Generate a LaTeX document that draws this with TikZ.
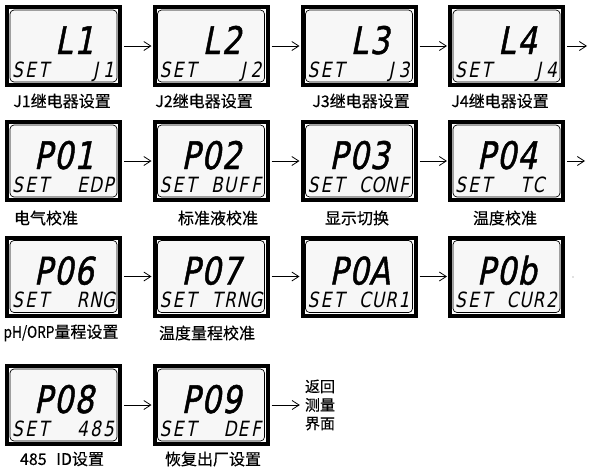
\documentclass[tikz,border=0pt]{standalone}
\usepackage{fontspec}
\usetikzlibrary{arrows.meta,calc}
\newfontfamily\cjk[FakeBold=0.4]{Noto Sans CJK SC}
\newfontfamily\segfont[FakeSlant=0.2,FakeStretch=0.8]{DejaVu Sans}
\newfontfamily\segbig[FakeSlant=0.2,FakeStretch=0.8,FakeBold=1.2]{DejaVu Sans}
\newlength\segw
\def\segloop#1{\ifx#1\relax\else\ifx#1.\hbox to\segw{}\else\hbox to\segw{\hss#1\hss}\fi\expandafter\segloop\fi}
\newcommand\seg[2]{\setlength\segw{#1}\segloop#2\relax}
\tikzset{
  outerbox/.style={draw, line width=4pt, minimum width=113pt, minimum height=78pt, inner sep=0pt, fill=white},
  innerbox/.style={draw, line width=0.7pt, fill=gray!6, rounded corners=4pt, minimum width=107pt, minimum height=72pt, inner sep=0pt},
  bigtxt/.style={font=\segbig\fontsize{38}{38}\selectfont, inner sep=0pt, anchor=base},
  smalltxt/.style={font=\segfont\fontsize{21}{21}\selectfont, inner sep=0pt, anchor=base},
  lbl/.style={font=\cjk\fontsize{16}{16}\selectfont, inner sep=0pt, anchor=center},
  arr/.style={-{Straight Barb[length=7pt,width=9pt]}, line width=0.8pt, shorten <=2pt, shorten >=1pt}
}
\newcommand\lcd[5]{%
  \node[outerbox] (#1) at (#2,#3) {};
  \node[innerbox] (#1in) at (#1.center) {};
  \node[bigtxt] (#1big) at ($(#1.center)+(0,8)$) {\seg{20.5pt}{#4}};
  \node[smalltxt] (#1small) at ($(#1.center)+(-0.5,31)$) {\seg{13pt}{#5}};
}
\begin{document}
\begin{tikzpicture}[x=1pt,y=-1pt]
\useasboundingbox[fill=white] (0,0) rectangle (597,469);
% row 1
\lcd{a1}{63.5}{46}{.L1}{SET...J1}
\lcd{a2}{211}{46}{.L2}{SET...J2}
\lcd{a3}{359}{46}{.L3}{SET...J3}
\lcd{a4}{506.5}{46}{.L4}{SET...J4}
% row 2
\lcd{b1}{63.5}{161}{P01}{SET..EDP}
\lcd{b2}{211}{161}{P02}{SET.BUFF}
\lcd{b3}{359}{161}{P03}{SET.CONF}
\lcd{b4}{506.5}{161}{P04}{SET..TC.}
% row 3
\lcd{c1}{63.5}{276.5}{P06}{SET..RNG}
\lcd{c2}{211}{276.5}{P07}{SET.TRNG}
\lcd{c3}{359}{276.5}{P0A}{SET.CUR1}
\lcd{c4}{506.5}{276.5}{P0b}{SET.CUR2}
% row 4
\lcd{d1}{63.5}{405}{P08}{SET..485}
\lcd{d2}{211}{405}{P09}{SET..DEF}
% labels
\node[lbl] (la1) at (62,101) {J1继电器设置};
\node[lbl] (la2) at (204,101) {J2继电器设置};
\node[lbl] (la3) at (361,101) {J3继电器设置};
\node[lbl] (la4) at (500,101) {J4继电器设置};
\node[lbl] (lb1) at (46,218) {电气校准};
\node[lbl] (lb2) at (218,218) {标准液校准};
\node[lbl] (lb3) at (357,218) {显示切换};
\node[lbl] (lb4) at (505,218) {温度校准};
\node[lbl] (lc1) at (61,333) {\scalebox{0.85}[1]{pH/ORP}量程设置};
\node[lbl] (lc2) at (207,333) {温度量程校准};
\node[lbl] (ld1) at (62,459) {485\hspace{0.6em}ID设置};
\node[lbl] (ld2) at (213,459) {恢复出厂设置};
\node[font=\cjk\fontsize{15}{18.5}\selectfont, align=center, inner sep=0pt] (ret) at (320,405) {返回\\测量\\界面};
% end points
\coordinate (e1) at (588,46);
\coordinate (e2) at (586,161);
% arrows
\draw[arr] (a1) -- (a2);
\draw[arr] (a2) -- (a3);
\draw[arr] (a3) -- (a4);
\draw[arr] (a4.east) -- (e1);
\draw[arr] (b1) -- (b2);
\draw[arr] (b2) -- (b3);
\draw[arr] (b3) -- (b4);
\draw[arr] (b4.east) -- (e2);
\draw[arr] (c1) -- (c2);
\draw[arr] (c2) -- (c3);
\draw[arr] (c3) -- (c4);
\draw[arr] (d1) -- (d2);
\draw[arr, shorten >=5pt] (d2) -- (ret.west);
\fill[gray] (573,277) circle (0.7pt);
\end{tikzpicture}
\end{document}
